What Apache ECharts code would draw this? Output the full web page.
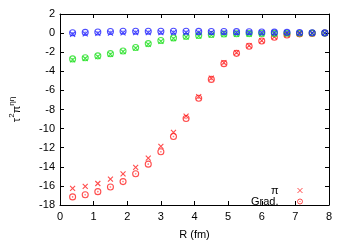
<!DOCTYPE html>
<html>
<head>
<meta charset="utf-8">
<script src="https://cdn.jsdelivr.net/npm/echarts@6/dist/echarts.min.js"></script>
<style>html,body{margin:0;padding:0;background:#fff}#c{width:350px;height:245px}</style>
</head>
<body>
<div id="c"></div>
<script>
var xs = [0.375,0.75,1.125,1.5,1.875,2.25,2.625,3.0,3.375,3.75,4.125,4.5,4.875,5.25,5.625,6.0,6.375,6.75,7.125,7.5,7.875];
var redPi = [-16.25,-16.05,-15.75,-15.3,-14.75,-14.05,-13.1,-11.85,-10.4,-8.7,-6.65,-4.72,-3.1,-2.05,-1.3,-0.78,-0.4,-0.17,-0.07,-0.02,0.0];
var redGrad = [-17.15,-16.92,-16.6,-16.12,-15.55,-14.72,-13.72,-12.42,-10.82,-8.95,-6.82,-4.85,-3.2,-2.12,-1.38,-0.82,-0.44,-0.2,-0.08,-0.03,0.0];
var greenPi = [-2.8,-2.66,-2.46,-2.22,-1.95,-1.58,-1.18,-0.86,-0.58,-0.42,-0.32,-0.22,-0.16,-0.14,-0.12,-0.1,-0.08,-0.06,-0.04,-0.03,-0.02];
var greenGrad = [-2.7,-2.58,-2.38,-2.15,-1.88,-1.5,-1.1,-0.78,-0.5,-0.34,-0.24,-0.15,-0.1,-0.07,-0.05,-0.04,-0.03,-0.02,-0.01,0.0,0.0];
var bluePi = [-0.12,-0.08,-0.04,0.0,0.03,0.04,0.05,0.05,0.05,0.05,0.05,0.05,0.05,0.05,0.05,0.05,0.04,0.04,0.03,0.03,0.02];
var blueGrad = [0.04,0.08,0.12,0.16,0.2,0.2,0.2,0.2,0.2,0.2,0.18,0.17,0.16,0.15,0.14,0.12,0.1,0.08,0.06,0.04,0.02];
var xTicks = [0,1,2,3,4,5,6,7,8];
var yTicks = [-18,-16,-14,-12,-10,-8,-6,-4,-2,0,2];
var legendNames = ['π', 'Grad.'];

var RED = '#ff2020', GREEN = '#22e022', BLUE = '#2020ff';
var CROSS = 'path://M0,0L10,10M10,0L0,10';
var CIRC = 'path://M10,5A5,5,0,1,1,0,5A5,5,0,1,1,10,5ZM5.4,5A0.4,0.4,0,1,1,4.6,5A0.4,0.4,0,1,1,5.4,5Z';
var FONT = 'Liberation Sans';
var CLEAR = 'rgba(0,0,0,0)';

function pts(ys){ return xs.map(function(x,i){ return [x, ys[i]]; }); }
function ser(name, ys, color, sym, size){
  return {
    name: name, type: 'scatter', data: pts(ys), symbol: sym, symbolSize: size,
    itemStyle: {color: CLEAR, borderColor: color, borderWidth: 1.1},
    emphasis: {disabled: true}, animation: false, z: 2
  };
}

var chart = echarts.init(document.getElementById('c'));
var axisCommon = {
  min: 0, max: 8, interval: 1,
  axisLine: {show: true, onZero: false, lineStyle: {color: '#000', width: 1}},
  axisTick: {show: true, inside: true, length: 4, lineStyle: {color: '#000'}},
  splitLine: {show: false}
};
chart.setOption({
  animation: false,
  grid: {left: 52, right: 21, top: 14, bottom: 36},
  legend: {
    data: [
      {name: legendNames[0], icon: CROSS, itemStyle: {color: CLEAR, borderColor: RED, borderWidth: 1}},
      {name: legendNames[1], icon: CIRC, itemStyle: {color: CLEAR, borderColor: RED, borderWidth: 1}}
    ],
    orient: 'vertical', align: 'right',
    right: 47, top: 185, padding: 0, itemGap: 0,
    itemWidth: 5, itemHeight: 5,
    textStyle: {fontFamily: FONT, fontSize: 11, color: '#000', lineHeight: 11, padding: [0, 14, 0, 0]},
    selectedMode: false
  },
  xAxis: [
    Object.assign({}, axisCommon, {
      type: 'value', position: 'bottom',
      name: 'R (fm)', nameLocation: 'middle', nameGap: 24,
      nameTextStyle: {fontFamily: FONT, fontSize: 11, color: '#000'},
      axisLabel: {fontFamily: FONT, fontSize: 11, color: '#000', margin: 6,
        formatter: function(v){ return xTicks.indexOf(v) >= 0 ? String(v) : ''; }}
    }),
    Object.assign({}, axisCommon, {type: 'value', position: 'top', axisLabel: {show: false}})
  ],
  yAxis: [
    {
      type: 'value', min: -18, max: 2, interval: 2, position: 'left',
      axisLine: {show: true, onZero: false, lineStyle: {color: '#000', width: 1}},
      axisTick: {show: true, inside: true, length: 4, lineStyle: {color: '#000'}},
      splitLine: {show: false},
      axisLabel: {fontFamily: FONT, fontSize: 11, color: '#000', margin: 5,
        formatter: function(v){ return yTicks.indexOf(v) >= 0 ? String(v) : ''; }},
      name: '{t|τ}{s|2}{t|π}{s|ηη}', nameLocation: 'middle', nameGap: 38, nameRotate: 90,
      nameTextStyle: {
        rich: {
          t: {fontFamily: FONT, fontSize: 11, color: '#000', lineHeight: 14, verticalAlign: 'bottom'},
          s: {fontFamily: FONT, fontSize: 8, color: '#000', lineHeight: 14, verticalAlign: 'top'}
        }
      }
    },
    {
      type: 'value', min: -18, max: 2, interval: 2, position: 'right',
      axisLine: {show: true, onZero: false, lineStyle: {color: '#000', width: 1}},
      axisTick: {show: true, inside: true, length: 4, lineStyle: {color: '#000'}},
      splitLine: {show: false}, axisLabel: {show: false}
    }
  ],
  series: [
    ser(legendNames[0], redPi, RED, CROSS, 5),
    ser(legendNames[1], redGrad, RED, CIRC, 6),
    ser('gpi', greenPi, GREEN, CROSS, 5),
    ser('ggrad', greenGrad, GREEN, CIRC, 6),
    ser('bpi', bluePi, BLUE, CROSS, 5),
    ser('bgrad', blueGrad, BLUE, CIRC, 6)
  ]
});
</script>
</body>
</html>
